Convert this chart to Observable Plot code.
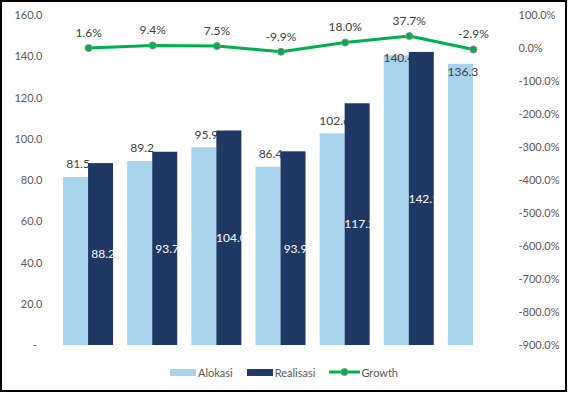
<!DOCTYPE html>
<html>
<head>
<meta charset="utf-8">
<script src="https://cdn.jsdelivr.net/npm/d3@7"></script>
<script src="https://cdn.jsdelivr.net/npm/@observablehq/plot@0.6"></script>
<style>
  html, body { margin: 0; padding: 0; background: #fff; }
  #wrap { position: relative; width: 568px; height: 393px; overflow: hidden; font-family: Lato, "Open Sans", sans-serif; }
  #frame { position: absolute; left: 0; top: 0; width: 567px; height: 392px; box-sizing: border-box; border: 2px solid #000; pointer-events: none; }
  #chart { position: absolute; left: 0; top: 0; }
  #legend { position: absolute; left: 170px; top: 364px; display: flex; align-items: center; font-size: 11px; color: #595959; height: 16px; }
  .item { display: flex; align-items: center; margin-right: 14px; }
  .sw { width: 26px; height: 7px; margin-right: 2px; }
</style>
</head>
<body>
<div id="wrap">
  <div id="chart"></div>
  <div id="legend"></div>
  <div id="frame"></div>
</div>
<script>
const series = ["Alokasi", "Realisasi", "Growth"];
const alokasi = [81.5, 89.2, 95.9, 86.4, 102.6, 140.4, 136.3];
const realisasi = [88.2, 93.7, 104.0, 93.9, 117.2, 142.1, null];
const growth = [1.6, 9.4, 7.5, -9.9, 18.0, 37.7, -2.9];
const leftTicks = [0, 20, 40, 60, 80, 100, 120, 140, 160];
const rightTicks = [-900, -800, -700, -600, -500, -400, -300, -200, -100, 0, 100];

const colors = { Alokasi: "#A7D3EC", Realisasi: "#1F3864", Growth: "#00B050" };

// map right-axis percent onto left-axis units: -900% -> 0, 100% -> 160
const toLeft = g => (g + 900) * 0.16;
const fromLeft = v => Math.round(v / 0.16 - 900);

const rows = alokasi.map((v, i) => ({ i, alokasi: v, realisasi: realisasi[i], growth: growth[i] }));
const half = 0.39;

const plot = Plot.plot({
  width: 568,
  height: 360,
  marginLeft: 56,
  marginRight: 63,
  marginTop: 15,
  marginBottom: 15,
  style: { fontFamily: "Lato, 'Open Sans', sans-serif", fontSize: "11px", color: "#595959", background: "transparent" },
  x: { type: "linear", domain: [-0.5, 6.5], axis: null },
  y: { domain: [0, 160], axis: null },
  marks: [
    Plot.axisY({ anchor: "left", ticks: leftTicks, tickSize: 0, tickPadding: 14,
      tickFormat: d => d === 0 ? "-\u00a0\u00a0" : d.toFixed(1), label: null, fill: "#595959" }),
    Plot.axisY({ anchor: "right", ticks: rightTicks.map(toLeft), tickSize: 0, tickPadding: 13,
      tickFormat: d => fromLeft(d).toFixed(1) + "%", label: null, fill: "#595959" }),
    Plot.rect(rows, { x1: d => d.i - half, x2: d => d.i, y1: 0, y2: "alokasi", fill: colors.Alokasi }),
    Plot.text(rows.filter(d => d.i < 5), { x: d => d.i - half / 2, y: "alokasi", text: d => d.alokasi.toFixed(1),
      dx: 2, dy: -13, fill: "#404040", fontSize: 12 }),
    Plot.text(rows.filter(d => d.i === 5), { x: d => d.i - half / 2, y: "alokasi", text: d => d.alokasi.toFixed(1),
      dx: 2, dy: 2, fill: "#404040", fontSize: 12 }),
    Plot.text(rows.filter(d => d.i === 6), { x: d => d.i - half / 2, y: "alokasi", text: d => d.alokasi.toFixed(1),
      dx: 2, dy: 8, fill: "#404040", fontSize: 12 }),
    Plot.rect(rows.filter(d => d.realisasi != null), { x1: d => d.i, x2: d => d.i + half, y1: 0, y2: "realisasi", fill: colors.Realisasi }),
    Plot.text(rows.filter(d => d.realisasi != null), { x: d => d.i + half / 2, y: d => d.realisasi / 2, text: d => d.realisasi.toFixed(1),
      dx: 2, fill: "#ffffff", fontSize: 12 }),
    Plot.line(rows, { x: "i", y: d => toLeft(d.growth), stroke: colors.Growth, strokeWidth: 3 }),
    Plot.dot(rows, { x: "i", y: d => toLeft(d.growth), r: 3.5, fill: colors.Growth, stroke: "#8c8c8c", strokeWidth: 1 }),
    Plot.text(rows, { x: "i", y: d => toLeft(d.growth), text: d => d.growth.toFixed(1) + "%",
      dy: -15, fill: "#404040", fontSize: 12 })
  ]
});
document.getElementById("chart").appendChild(plot);

// legend
const legend = document.getElementById("legend");
series.forEach(s => {
  const item = document.createElement("div");
  item.className = "item";
  if (s === "Growth") {
    item.innerHTML = `<svg width="31" height="10" style="margin-right:1px"><line x1="0" y1="5" x2="31" y2="5" stroke="${colors.Growth}" stroke-width="3"/><circle cx="15.5" cy="5" r="3.5" fill="${colors.Growth}" stroke="#8c8c8c" stroke-width="1"/></svg><span>${s}</span>`;
  } else {
    item.innerHTML = `<div class="sw" style="background:${colors[s]}"></div><span>${s}</span>`;
  }
  legend.appendChild(item);
});
</script>
</body>
</html>
